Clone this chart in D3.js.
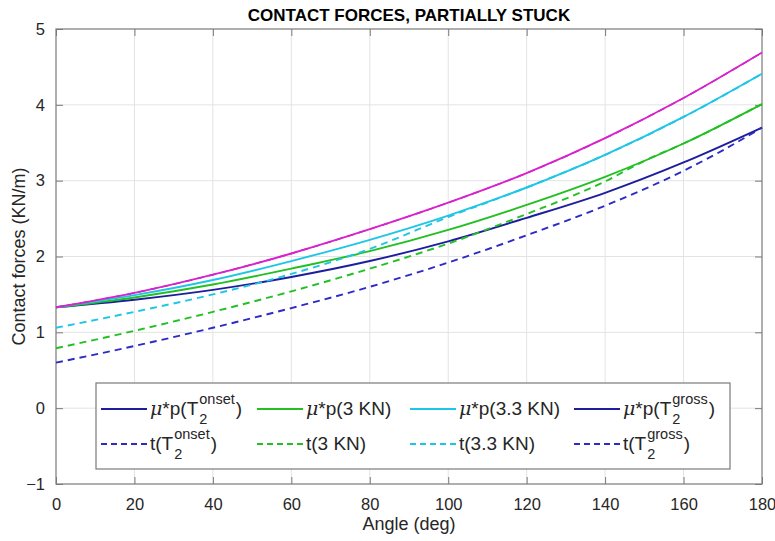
<!DOCTYPE html>
<html><head><meta charset="utf-8">
<script src="https://cdn.jsdelivr.net/npm/d3@7"></script>
<style>body{margin:0;background:#fff}svg{display:block}text{font-family:"Liberation Sans",Arial,sans-serif}</style>
</head><body><svg id="c" width="775" height="541"></svg>
<script>
const title = "CONTACT FORCES, PARTIALLY STUCK";
const xLabel = "Angle (deg)";
const yLabel = "Contact forces (KN/m)";
const xTicks = [0,20,40,60,80,100,120,140,160,180];
const yTicks = [-1,0,1,2,3,4,5];

const angles = [0,20,40,60,80,100,120,140,160,180];
const mpOnset = [1.33,1.43,1.56,1.73,1.94,2.20,2.51,2.84,3.24,3.70];
const mp3     = [1.33,1.46,1.63,1.84,2.07,2.35,2.68,3.05,3.49,4.01];
const mp33    = [1.33,1.49,1.69,1.94,2.22,2.54,2.91,3.34,3.84,4.41];
const mpGross = [1.33,1.52,1.76,2.04,2.36,2.71,3.10,3.56,4.09,4.69];

const tOnsetAngles = [0,20,40,60,80,100,120,140,160,170,180];
const tOnset = [0.60,0.82,1.06,1.32,1.60,1.92,2.28,2.67,3.13,3.40,3.70];
const t3Angles = [0,20,40,60,80,100,120,140,150,160,180];
const t3 = [0.79,1.02,1.27,1.54,1.84,2.17,2.56,2.99,3.26,3.49,4.01];
const t33Angles = [0,20,40,60,80,100,120,140,160,180];
const t33 = [1.06,1.27,1.50,1.77,2.10,2.52,2.91,3.34,3.84,4.41];
const tGross = mpGross;

const C = {navy:"#1d1d9e", blueD:"#2b2bc6", green:"#22c022", cyan:"#1ec6e6", magenta:"#de20cc"};

const series = [
  {x:angles, y:tGross, color:C.blueD, dash:true, w:1.4},
  {x:angles, y:mpOnset, color:C.navy, dash:false},
  {x:angles, y:mp3, color:C.green, dash:false},
  {x:angles, y:mp33, color:C.cyan, dash:false},
  {x:angles, y:mpGross, color:C.magenta, dash:false},
  {x:t33Angles, y:t33, color:C.cyan, dash:true},
  {x:t3Angles, y:t3, color:C.green, dash:true},
  {x:tOnsetAngles, y:tOnset, color:C.blueD, dash:true},
];

const legendItems = [
  {pre:"p(T", sup:"onset", sub:"2", post:")", mu:true, color:C.navy, dash:false},
  {pre:"p(3 KN)", mu:true, color:C.green, dash:false},
  {pre:"p(3.3 KN)", mu:true, color:C.cyan, dash:false},
  {pre:"p(T", sup:"gross", sub:"2", post:")", mu:true, color:C.navy, dash:false},
  {pre:"t(T", sup:"onset", sub:"2", post:")", mu:false, color:C.blueD, dash:true},
  {pre:"t(3 KN)", mu:false, color:C.green, dash:true},
  {pre:"t(3.3 KN)", mu:false, color:C.cyan, dash:true},
  {pre:"t(T", sup:"gross", sub:"2", post:")", mu:false, color:C.blueD, dash:true},
];

const L=56, R=762, T=29, B=484;
const svg = d3.select("#c");
const x = d3.scaleLinear().domain([0,180]).range([L,R]);
const y = d3.scaleLinear().domain([-1,5]).range([B,T]);

// grid
svg.append("g").selectAll("line").data(xTicks.slice(1,-1)).join("line")
  .attr("x1",d=>x(d)).attr("x2",d=>x(d)).attr("y1",T).attr("y2",B)
  .attr("stroke","#e3e3e3").attr("stroke-width",1);
svg.append("g").selectAll("line").data(yTicks.slice(1,-1)).join("line")
  .attr("y1",d=>y(d)).attr("y2",d=>y(d)).attr("x1",L).attr("x2",R)
  .attr("stroke","#e3e3e3").attr("stroke-width",1);

// axes
const axCol = "#7a7a7a";
function styleAxis(g){
  g.select(".domain").remove();
  g.selectAll(".tick line").attr("stroke",axCol);
  g.selectAll(".tick text").attr("fill","#262626").style("font-size","16.5px").style("font-family","'Liberation Sans',Arial,sans-serif");
}
svg.append("g").attr("transform",`translate(0,${B})`)
  .call(d3.axisBottom(x).tickValues(xTicks).tickSizeInner(-7).tickSizeOuter(0).tickPadding(14))
  .call(styleAxis);
svg.append("g").attr("transform",`translate(${L},0)`)
  .call(d3.axisLeft(y).tickValues(yTicks).tickSizeInner(-7).tickSizeOuter(0).tickPadding(11).tickFormat(d3.format("d")))
  .call(styleAxis);
svg.append("g").attr("transform",`translate(0,${T})`)
  .call(d3.axisTop(x).tickValues(xTicks).tickSizeInner(-7).tickSizeOuter(0).tickFormat(""))
  .call(styleAxis);
svg.append("g").attr("transform",`translate(${R},0)`)
  .call(d3.axisRight(y).tickValues(yTicks).tickSizeInner(-7).tickSizeOuter(0).tickFormat(""))
  .call(styleAxis);
svg.append("rect").attr("x",L).attr("y",T).attr("width",R-L).attr("height",B-T)
  .attr("fill","none").attr("stroke",axCol).attr("stroke-width",1.2);

// lines
const line = d3.line().curve(d3.curveMonotoneX);
const g = svg.append("g");
series.forEach(s=>{
  const pts = s.x.map((a,i)=>[x(a), y(s.y[i])]);
  g.append("path").attr("d", line(pts)).attr("fill","none")
    .attr("stroke", s.color).attr("stroke-width", s.w||1.9)
    .attr("stroke-dasharray", s.dash ? "7,5" : null);
});

// title & labels
svg.append("text").attr("x",(L+R)/2).attr("y",21).attr("text-anchor","middle")
  .style("font-size","17px").style("font-weight","bold").attr("fill","#000").text(title);
svg.append("text").attr("x",(L+R)/2).attr("y",530).attr("text-anchor","middle")
  .style("font-size","18px").attr("fill","#262626").text(xLabel);
svg.append("text").attr("transform",`translate(25,${(T+B)/2}) rotate(-90)`).attr("text-anchor","middle")
  .style("font-size","18px").attr("fill","#262626").text(yLabel);

// legend
const lg = svg.append("g");
const lx0 = 96, ly0 = 383, lw = 634, lh = 86;
lg.append("rect").attr("x",lx0).attr("y",ly0).attr("width",lw).attr("height",lh)
  .attr("fill","#fff").attr("stroke",axCol).attr("stroke-width",1.2);
const colX = [101, 257, 410, 574];
const rowY = [415, 450];
legendItems.forEach((it,i)=>{
  const cx = colX[i%4], cy = rowY[Math.floor(i/4)];
  lg.append("line").attr("x1",cx).attr("x2",cx+46).attr("y1",cy-6).attr("y2",cy-6)
    .attr("stroke",it.color).attr("stroke-width",1.9).attr("stroke-dasharray",it.dash?"6,4":null);
  let tx = cx + 49;
  const t = lg.append("text").attr("x",tx).attr("y",cy).style("font-size","19px").attr("fill","#262626");
  if(it.mu){
    t.append("tspan").style("font-style","italic").attr("font-family","'DejaVu Serif',serif").text("\u03bc");
    t.append("tspan").text("*"+it.pre);
  } else t.append("tspan").text(it.pre);
  tx += t.node().getComputedTextLength();
  if(it.sup){
    const s1 = lg.append("text").attr("x",tx+1).attr("y",cy-11).style("font-size","14.5px").attr("fill","#262626").text(it.sup);
    const s2 = lg.append("text").attr("x",tx+1).attr("y",cy+9).style("font-size","14.5px").attr("fill","#262626").text(it.sub);
    const w = Math.max(s1.node().getComputedTextLength(), s2.node().getComputedTextLength());
    lg.append("text").attr("x",tx+w+2).attr("y",cy).style("font-size","19px").attr("fill","#262626").text(it.post);
  }
});
</script></body></html>
